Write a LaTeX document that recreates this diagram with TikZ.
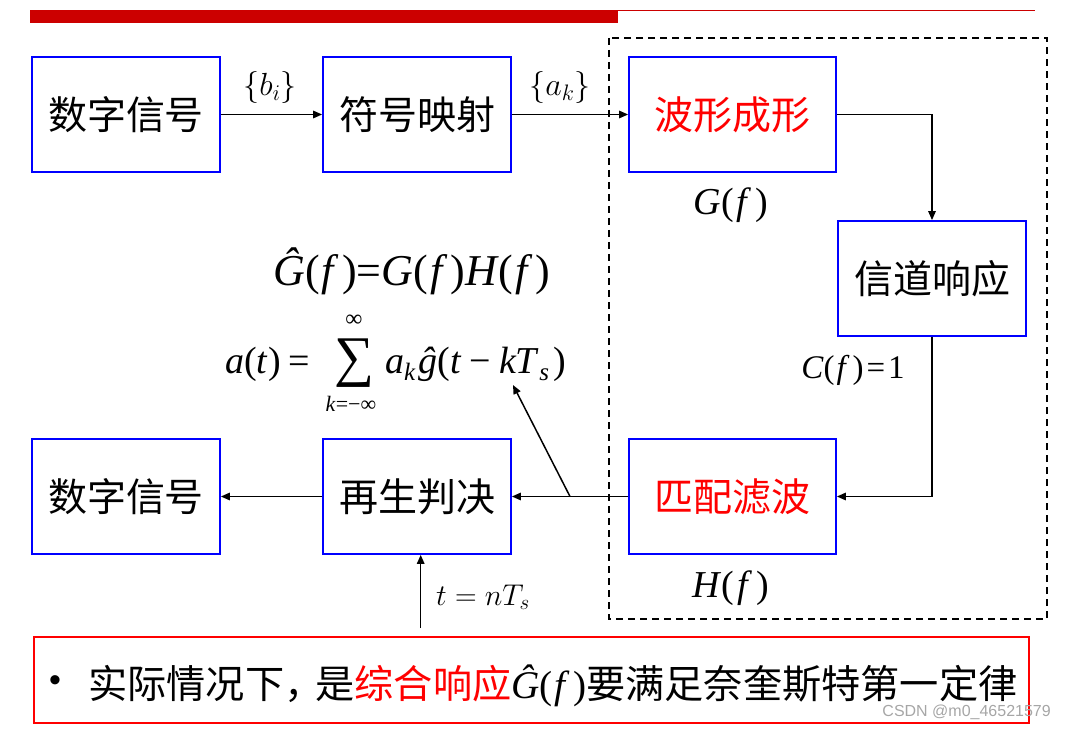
\RequirePackage{fix-cm}
\documentclass[tikz,border=0pt]{standalone}
\usepackage{fontspec}
\newfontfamily\cjk{Noto Sans CJK SC}
\newfontfamily\tm{Liberation Serif}
\newfontfamily\wmfont{Liberation Sans}
\usetikzlibrary{arrows.meta}
\newcommand{\fx}{(\kern2pt\textit{f}\kern3pt)}
\newcommand{\sbs}[1]{\raisebox{-7pt}{\fontsize{25}{25}\selectfont\textit{#1}}}
\begin{document}
\begin{tikzpicture}[x=1pt,y=-1pt,
  blk/.style={draw=blue, line width=1.8pt, minimum width=188pt, minimum height=115pt, inner sep=0pt,
    font=\cjk\fontsize{39}{42}\selectfont},
  wide/.style={minimum width=207pt},
  arr/.style={draw=black, line width=1.5pt, -{Triangle[length=9pt,width=7.5pt]}},
  lbl/.style={inner sep=0pt, anchor=base, font=\fontsize{32}{34}\selectfont},
  tml/.style={inner sep=0pt, anchor=base, font=\tm\fontsize{38}{40}\selectfont}
]
\useasboundingbox (0,0) rectangle (1066,730);
% header bars
\fill[red!80!black] (30,10) rectangle (618,23);
\draw[red!80!black, line width=1.3pt] (618,10.8) -- (1035,10.8);
% dashed system frame
\draw[black, line width=1.6pt, dash pattern=on 7pt off 5pt] (609,38) rectangle (1047,619);
% blocks
\node[blk] (d1) at (126,114.5) {数字信号};
\node[blk] (m) at (417,114.5) {符号映射};
\node[blk, wide, text=red] (w) at (732.5,114.5) {波形成形};
\node[blk] (c) at (932,278.5) {信道响应};
\node[blk, wide, text=red] (h) at (732.5,496.5) {匹配滤波};
\node[blk] (r) at (417,496.5) {再生判决};
\node[blk] (d2) at (126,496.5) {数字信号};
% connectors
\draw[arr] (d1.east) -- (m.west);
\draw[arr] (m.east) -- (w.west);
\draw[arr] (w.east) -| (c.north);
\draw[arr] (c.south) |- (h.east);
\draw[arr] (h.west) -- (r.east) coordinate[pos=0.5] (tap);
\draw[arr] (r.west) -- (d2.east);
\coordinate (sumtip) at (513,385);
\draw[arr] (tap) -- (sumtip);
\coordinate (tin) at (420.7,628);
\draw[arr] (tin) -- (tin |- r.south);
% labels
\node[lbl] (lb) at (270,96) {$\{b_i\}$};
\node[lbl] (la) at (560,96) {$\{a_k\}$};
\node[tml] (lg) at (731,215) {\textit{G}(\kern3pt\textit{f}\kern4pt)};
\node[tml] (lh) at (731,597) {\textit{H}(\kern3pt\textit{f}\kern4pt)};
\node[tml, font=\tm\fontsize{33}{35}\selectfont] (lc) at (853,378) {\textit{C}\fx\kern3pt=\kern3pt1};
\node[lbl, font=\fontsize{30}{32}\selectfont] (lt) at (483,605) {$t=nT_s$};
\node[tml, font=\tm\fontsize{44}{46}\selectfont] (e1) at (412,285) {\textit{Ĝ}\fx=\textit{G}\fx\textit{H}\fx};
% summation formula
\node[tml, anchor=base west] (e2a) at (225,373) {\textit{a}(\textit{t})\kern8pt=};
\node[inner sep=0pt, font=\tm\fontsize{56}{56}\selectfont] (e2s) at (354,363) {∑};
\node[inner sep=0pt, font=\tm\fontsize{24}{24}\selectfont] (e2u) at (354,321) {∞};
\node[inner sep=0pt, font=\tm\fontsize{22}{22}\selectfont] (e2l) at (351,404) {\textit{k}=−∞};
\node[tml, anchor=base west] (e2b) at (385,373)
  {\textit{a}\sbs{k}\kern3pt\textit{ĝ}(\textit{t}\kern8pt−\kern8pt\textit{kT}\sbs{s}\kern4pt)};
% note box
\draw[red, line width=1.8pt] (34,637) rectangle (1029,723);
\node[inner sep=0pt, font=\wmfont\fontsize{34}{36}\selectfont] (bul) at (55,684) {•};
\node[inner sep=0pt, anchor=base west, font=\cjk\fontsize{39.2}{44}\selectfont] (note) at (88,698)
  {实际情况下，\kern-8pt 是\textcolor{red}{综合响应}{\tm\textit{Ĝ}\fx}要满足奈奎斯特第一定律};
% watermark
\node[inner sep=0pt, anchor=east, text=black!35, font=\wmfont\fontsize{16}{18}\selectfont] (wm) at (1051,712) {CSDN @m0\_46521579};
\end{tikzpicture}
\end{document}
